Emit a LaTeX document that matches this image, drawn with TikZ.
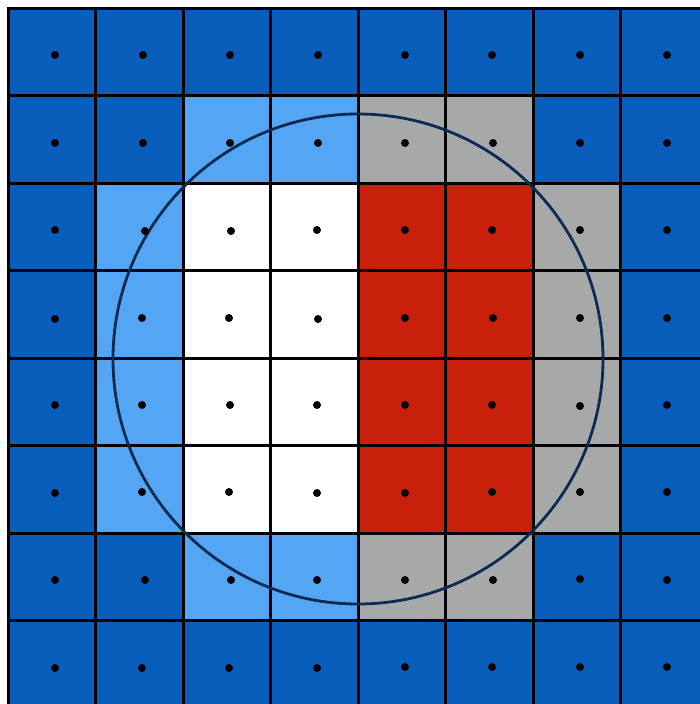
\documentclass[tikz,border=0pt]{standalone}
\definecolor{dkb}{HTML}{0A5EBB}
\definecolor{ltb}{HTML}{55A5F5}
\definecolor{gry}{HTML}{A7A9A9}
\definecolor{rd}{HTML}{C8200B}
\definecolor{navy}{HTML}{0C2A52}
\tikzset{gridline/.style={line width=3pt,black},
  dotmark/.style={fill=black},
  ring/.style={draw=navy,line width=2.8pt}}
\begin{document}
\begin{tikzpicture}[x=1pt,y=-1pt]
\useasboundingbox (0,0) rectangle (700,704);
\clip (0,0) rectangle (700,704);
% base
\fill[dkb] (8,8) rectangle (708,708);
% light blue
\fill[ltb] (183,95.5) rectangle (358,183);
\fill[ltb] (183,533) rectangle (358,620.5);
\fill[ltb] (95.5,183) rectangle (183,533);
% grey
\fill[gry] (358,95.5) rectangle (533,183);
\fill[gry] (358,533) rectangle (533,620.5);
\fill[gry] (533,183) rectangle (620.5,533);
% white and red
\fill[white] (183,183) rectangle (358,533);
\fill[rd] (358,183) rectangle (533,533);
% grid
\foreach \i in {0,...,8}{
  \draw[gridline] ({8+87.5*\i},6.5) -- ({8+87.5*\i},709.5);
  \draw[gridline] (6.5,{8+87.5*\i}) -- (709.5,{8+87.5*\i});
}
% circle
\draw[ring] (358,359) circle (245);
% dots
\foreach \x/\y in {
55/55,143/55,230/55,318/55,405/55,492/55,580/55,667/55,
55/143,143/143,230/143,318/143,405/143,493/143,580/143,667/143,
55/230,145/231,231/231,317/230,405/230,492/230,580/230,667/230,
55/319,142/318,229/318,318/319,405/318,493/318,580/318,667/318,
55/405,142/405,230/405,317/405,405/405,492/405,580/406,667/405,
55/493,142/492,229/492,317/493,405/493,492/492,580/492,667/492,
55/580,145/580,231/580,317/580,405/580,493/580,580/579,667/580,
55/668,142/668,229/668,317/668,405/667,492/667,580/667,667/667}
  \fill[dotmark] (\x,\y) circle (4);
\end{tikzpicture}
\end{document}
